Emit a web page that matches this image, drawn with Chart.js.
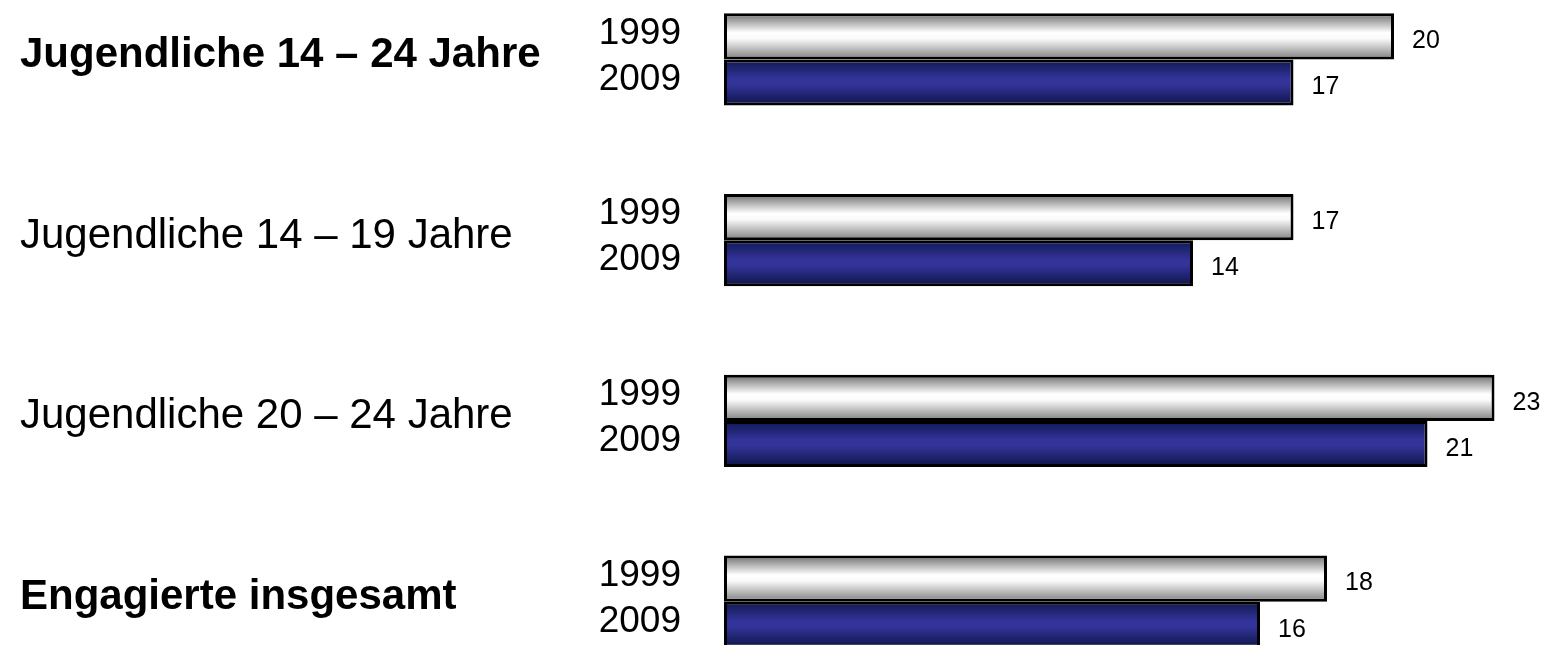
<!DOCTYPE html>
<html lang="de">
<head>
<meta charset="utf-8">
<title>Engagement Jugendliche 1999 / 2009</title>
<script src="https://cdn.jsdelivr.net/npm/chart.js@4"></script>
<style>
    html, body {
        margin: 0;
        padding: 0;
        width: 1548px;
        height: 645px;
        overflow: hidden;
        background: #ffffff;
    }
    #chartWrap {
        position: absolute;
        left: 0;
        top: -31px;
        width: 1548px;
        height: 723px;
    }
</style>
</head>
<body>
<div id="chartWrap"><canvas id="engagementChart"></canvas></div>
<script>
// Daten
const categories = ['Jugendliche 14 – 24 Jahre', 'Jugendliche 14 – 19 Jahre', 'Jugendliche 20 – 24 Jahre', 'Engagierte insgesamt'];
const boldCategories = [true, false, false, true];
const years = ['1999', '2009'];
const values1999 = [20, 17, 23, 18];
const values2009 = [17, 14, 21, 16];

const FONT = '"Liberation Sans", Arial, Helvetica, sans-serif';
const CATEGORY_PCT = 0.51;

// Farbverläufe je Jahr (oben - Mitte - unten)
const gradientStops = [
    [[0, '#6c6c6c'], [0.42, '#ffffff'], [0.55, '#fafafa'], [1, '#7e7e7e']],
    [[0, '#0f1850'], [0.42, '#333399'], [0.55, '#333399'], [1, '#0d1446']]
];
const fallbackColors = ['#eeeeee', '#333399'];

// Verlauf für einen Balken über die Kategorie-Skala berechnen
function barGradient(context) {
    const chart = context.chart;
    const yScale = chart.scales.y;
    if (!chart.chartArea || !yScale || context.dataIndex === undefined) {
        return fallbackColors[context.datasetIndex];
    }
    const center = yScale.getPixelForValue(context.dataIndex);
    const full = yScale.getPixelForValue(1) - yScale.getPixelForValue(0);
    const groupH = full * CATEGORY_PCT;
    const barH = groupH / years.length;
    const top = center - groupH / 2 + context.datasetIndex * barH;
    const g = chart.ctx.createLinearGradient(0, top, 0, top + barH);
    gradientStops[context.datasetIndex].forEach(s => g.addColorStop(s[0], s[1]));
    return g;
}

// Beschriftungen: Kategorien links, Jahre, Werte rechts neben den Balken
const labelPlugin = {
    id: 'labelPlugin',
    afterDatasetsDraw(chart) {
        const ctx = chart.ctx;
        const yScale = chart.scales.y;
        ctx.save();
        ctx.fillStyle = '#000000';

        // Kategorien
        ctx.textAlign = 'left';
        ctx.textBaseline = 'middle';
        categories.forEach((cat, i) => {
            ctx.font = (boldCategories[i] ? 'bold ' : '') + '42px ' + FONT;
            ctx.fillText(cat, 20, yScale.getPixelForValue(i) - 4);
        });

        chart.data.datasets.forEach((ds, di) => {
            const meta = chart.getDatasetMeta(di);
            meta.data.forEach((bar, i) => {
                // Jahr
                ctx.font = '37px ' + FONT;
                ctx.textAlign = 'right';
                ctx.fillText(ds.label, 681, bar.y - 3);
                // Wert
                ctx.font = '25px ' + FONT;
                ctx.textAlign = 'left';
                ctx.fillText(String(ds.data[i]), bar.x + 18, bar.y + 5);
            });
        });
        ctx.restore();
    }
};

const chart = new Chart(document.getElementById('engagementChart'), {
    type: 'bar',
    data: {
        labels: categories,
        datasets: [
            {
                label: years[0],
                data: values1999,
                backgroundColor: barGradient,
                borderColor: '#000000',
                borderWidth: 3,
                borderSkipped: false
            },
            {
                label: years[1],
                data: values2009,
                backgroundColor: barGradient,
                borderColor: '#000000',
                borderWidth: 3,
                borderSkipped: false
            }
        ]
    },
    options: {
        indexAxis: 'y',
        responsive: true,
        maintainAspectRatio: false,
        animation: false,
        categoryPercentage: CATEGORY_PCT,
        barPercentage: 1,
        layout: {
            padding: { left: 724, right: 20, top: 0, bottom: 0 }
        },
        plugins: {
            legend: { display: false },
            tooltip: { enabled: false }
        },
        scales: {
            x: {
                display: false,
                min: 0,
                max: 24
            },
            y: {
                display: false
            }
        }
    },
    plugins: [labelPlugin]
});
</script>
</body>
</html>
